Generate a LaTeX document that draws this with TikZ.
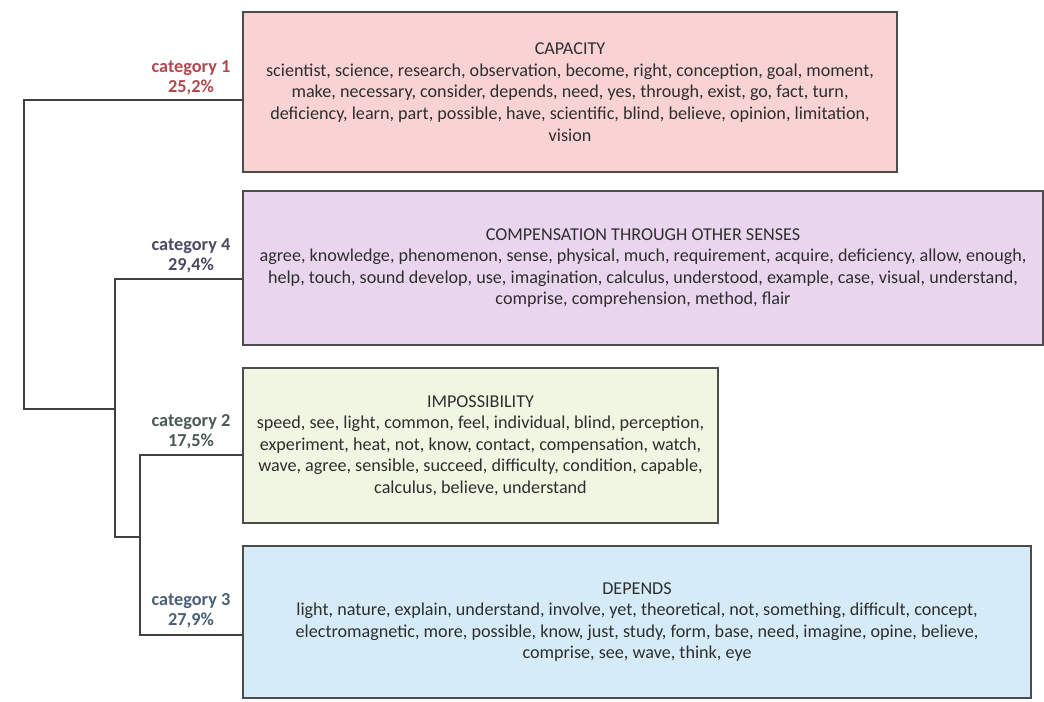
\documentclass[tikz,border=0pt]{standalone}
\usepackage{fontspec}
\setmainfont{Carlito}
\definecolor{pinkfill}{HTML}{F9D3D3}
\definecolor{lilacfill}{HTML}{E9D6EE}
\definecolor{greenfill}{HTML}{F1F6E3}
\definecolor{bluefill}{HTML}{D5ECF8}
\definecolor{cOne}{HTML}{B04850}
\definecolor{cFour}{HTML}{4A4A62}
\definecolor{cTwo}{HTML}{4A5A52}
\definecolor{cThree}{HTML}{4A6078}
\begin{document}
\begin{tikzpicture}[x=0.75pt,y=-0.75pt,
  box/.style={draw=black!70, line width=1.1pt, align=center, inner sep=0pt,
    font=\fontsize{13.6}{16.2}\selectfont, text=black!82},
  cat/.style={align=center, font=\bfseries\fontsize{13.7}{15}\selectfont},
  tree/.style={draw=black!75, line width=1.1pt}]
\fill[white] (0,0) rectangle (1044,701);
\useasboundingbox (0,0) rectangle (1044,701);
\node[box, fill=pinkfill, minimum width=490.5pt, minimum height=120pt] (b1) at (570,92)
  {CAPACITY\\
   scientist, science, research, observation, become, right, conception, goal, moment,\\
   make, necessary, consider, depends, need, yes, through, exist, go, fact, turn,\\
   deficiency, learn, part, possible, have, scientific, blind, believe, opinion, limitation,\\
   vision};
\node[box, fill=lilacfill, minimum width=600pt, minimum height=115.5pt] (b2) at (643,268)
  {COMPENSATION THROUGH OTHER SENSES\\
   agree, knowledge, phenomenon, sense, physical, much, requirement, acquire, deficiency, allow, enough,\\
   help, touch, sound develop, use, imagination, calculus, understood, example, case, visual, understand,\\
   comprise, comprehension, method, flair};
\node[box, fill=greenfill, minimum width=356.25pt, minimum height=116.25pt] (b3) at (480.5,445.5)
  {IMPOSSIBILITY\\
   speed, see, light, common, feel, individual, blind, perception,\\
   experiment, heat, not, know, contact, compensation, watch,\\
   wave, agree, sensible, succeed, difficulty, condition, capable,\\
   calculus, believe, understand};
\node[box, fill=bluefill, minimum width=591pt, minimum height=114pt] (b4) at (637,622)
  {DEPENDS\\
   light, nature, explain, understand, involve, yet, theoretical, not, something, difficult, concept,\\
   electromagnetic, more, possible, know, just, study, form, base, need, imagine, opine, believe,\\
   comprise, see, wave, think, eye};
\coordinate (t1) at (24,100);
\coordinate (j1) at (24,409);
\coordinate (j2) at (115,409);
\coordinate (t4) at (115,279);
\coordinate (j3) at (115,537);
\coordinate (j4) at (140,537);
\coordinate (t2) at (140,455);
\coordinate (t3) at (140,635);
\draw[tree] (b1.west |- t1) -- (t1) -- (j1) -- (j2);
\draw[tree] (b2.west |- t4) -- (t4) -- (j3) -- (j4);
\draw[tree] (b3.west |- t2) -- (t2) -- (t3) -- (b4.west |- t3);
\node[cat, text=cOne] (l1) at (191,78) {category 1\\25,2\%};
\node[cat, text=cFour] (l4) at (191,256) {category 4\\29,4\%};
\node[cat, text=cTwo] (l2) at (191,432) {category 2\\17,5\%};
\node[cat, text=cThree] (l3) at (191,611) {category 3\\27,9\%};
\end{tikzpicture}
\end{document}
